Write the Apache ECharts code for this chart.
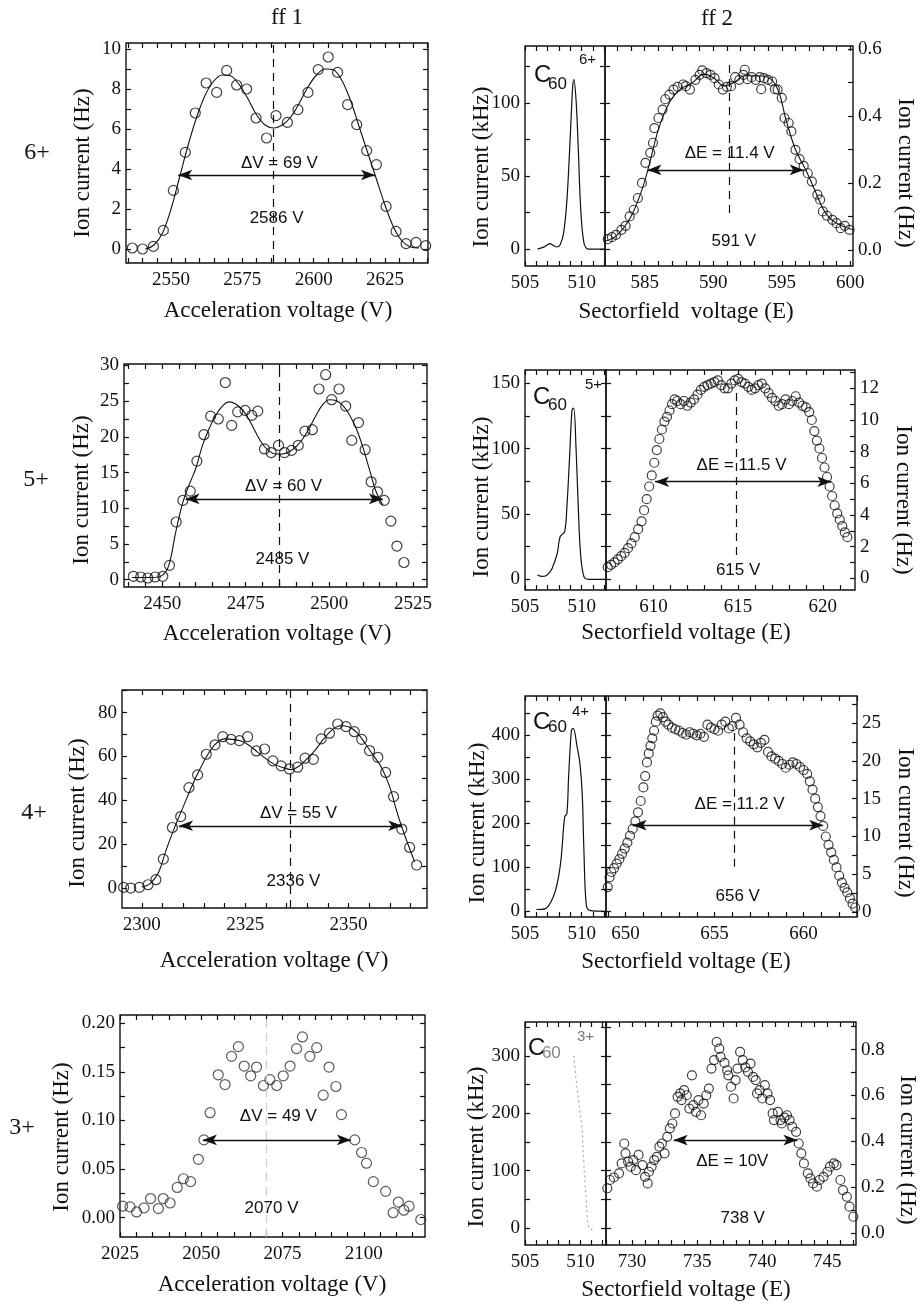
<!DOCTYPE html>
<html><head><meta charset="utf-8">
<script src="https://cdn.jsdelivr.net/npm/echarts@6/dist/echarts.min.js"></script>
<style>html,body{margin:0;padding:0;background:#fff}#c{width:923px;height:1304px}</style>
</head><body><div id="c"></div><script>
// ================= DATA =================
const rowLabels = ['6+', '5+', '4+', '3+'];
const colTitles = ['ff 1', 'ff 2'];
const ff1XTitle = 'Acceleration voltage (V)';
const ff2XTitles = ['Sectorfield  voltage (E)', 'Sectorfield voltage (E)', 'Sectorfield voltage (E)', 'Sectorfield voltage (E)'];
const yTitleHz = 'Ion current (Hz)';
const yTitleKHz = 'Ion current (kHz)';

// ---- ff1 (acceleration voltage scans) ----
const ff1_6_pts = [[2536.4,0.05],[2540,0],[2543.8,0.13],[2547.3,0.93],[2550.8,2.93],[2555,4.83],[2558.5,6.8],[2562.3,8.3],[2566,7.83],[2569.5,8.93],[2573,8.2],[2576.5,8.0],[2579.8,6.55],[2583.5,5.55],[2586.8,6.67],[2590.8,6.33],[2594.5,6.97],[2598,7.83],[2601.6,8.97],[2605.1,9.6],[2608.4,8.83],[2611.9,7.22],[2615.1,6.22],[2618.6,4.92],[2622,4.22],[2625.4,2.13],[2628.9,0.88],[2632.4,0.27],[2635.9,0.33],[2639.3,0.17]];
const ff1_6_fit = [[2541,0.0],[2544,0.2],[2547,0.8],[2550,2.0],[2553,3.6],[2556,5.2],[2559,6.6],[2562,7.7],[2565,8.4],[2568,8.7],[2571,8.65],[2574,8.2],[2577,7.5],[2580,6.7],[2583,6.2],[2586,6.05],[2589,6.2],[2592,6.6],[2595,7.3],[2598,8.1],[2601,8.7],[2604,9.0],[2607,8.95],[2610,8.4],[2613,7.4],[2616,6.1],[2619,4.8],[2622,3.5],[2625,2.2],[2628,1.1],[2631,0.4],[2634,0.1],[2637,0.05]];

const ff1_5_pts = [[2441.4,0.47],[2443.6,0.37],[2445.7,0.23],[2447.9,0.37],[2450.2,0.47],[2452.2,2.0],[2454.2,8.07],[2456.2,11.1],[2458.4,12.4],[2460.4,16.6],[2462.5,20.3],[2464.5,22.9],[2466.8,22.5],[2468.9,27.6],[2470.8,21.6],[2472.6,23.5],[2474.8,23.7],[2476.8,23.0],[2478.6,23.6],[2480.6,18.3],[2482.6,17.8],[2484.8,18.8],[2486.6,17.8],[2488.7,18.1],[2490.7,18.8],[2492.7,20.8],[2494.9,21.0],[2496.9,26.7],[2498.9,28.7],[2500.7,25.2],[2502.9,26.7],[2504.9,24.3],[2506.7,19.5],[2508.7,22.0],[2510.7,18.2],[2512.5,13.7],[2514.4,12.3],[2516.4,11.1],[2518.4,8.2],[2520.2,4.7],[2522.3,2.4]];
const ff1_5_fit = [[2441,0.3],[2447,0.3],[2450,0.6],[2452,2.0],[2454,6.5],[2456,10.5],[2458,13.2],[2460,15.5],[2462,18.7],[2464,21.1],[2466,23.0],[2468,24.3],[2470,24.9],[2472,24.6],[2474,23.8],[2476,22.4],[2478,20.6],[2480,19.0],[2482,18.0],[2484,17.6],[2486,17.6],[2488,17.9],[2490,18.6],[2492,19.7],[2494,21.2],[2496,23.0],[2498,24.5],[2500,25.2],[2502,25.1],[2504,24.4],[2506,23.1],[2508,21.2],[2510,18.6],[2512,15.4],[2514,12.3],[2516,10.4]];

const ff1_4_pts = [[2295.6,0.3],[2297.3,0],[2299.4,0.3],[2301.5,1.5],[2303.4,3.8],[2305.2,13.2],[2307.4,27.6],[2309.4,32.6],[2311.4,45.8],[2313.5,51.6],[2315.6,61],[2317.7,65.3],[2319.6,69],[2321.6,67.8],[2323.6,67.2],[2325.6,69],[2327.7,62.5],[2329.7,63.4],[2331.7,58],[2333.7,55.7],[2335.7,54.3],[2337.7,55.1],[2339.5,59.2],[2341.5,58.7],[2343.4,68],[2345.4,70.6],[2347.4,74.8],[2349.4,73.6],[2351.4,71.3],[2353.2,67.8],[2355.1,62.7],[2357.1,59.6],[2359,52.7],[2360.9,41.7],[2362.9,26.9],[2364.8,18.5],[2366.5,10.5]];
const ff1_4_fit = [[2300,0.5],[2302,2],[2304,7],[2306,18],[2308,28],[2310,37],[2312,46],[2314,54],[2316,61],[2318,66],[2320,68],[2322,67.8],[2324,67],[2326,65],[2328,62],[2330,59],[2332,56.5],[2334,55],[2336,54],[2338,55.5],[2340,59],[2342,63],[2344,68],[2346,72],[2348,74],[2350,73.5],[2352,71],[2354,66],[2356,60.5],[2358,55],[2360,46],[2362,33],[2364,22],[2366,12]];

const ff1_3_pts = [[2025.8,0.0117],[2028.1,0.011],[2030.1,0.0058],[2032.4,0.010],[2034.4,0.0196],[2036.8,0.0093],[2038.3,0.0196],[2040.4,0.015],[2042.6,0.031],[2044.5,0.040],[2046.7,0.037],[2049.1,0.060],[2050.8,0.080],[2052.7,0.108],[2055.2,0.147],[2057.3,0.137],[2059.3,0.166],[2061.4,0.176],[2063.2,0.156],[2065.2,0.146],[2067,0.155],[2069.1,0.136],[2071.1,0.142],[2073.2,0.136],[2075.2,0.146],[2077.3,0.156],[2079.3,0.174],[2081.1,0.186],[2083.4,0.166],[2085.5,0.175],[2087.5,0.126],[2089.3,0.155],[2091.4,0.135],[2093.1,0.106],[2097.2,0.080],[2099.3,0.067],[2100.8,0.056],[2102.9,0.037],[2106.7,0.027],[2109,0.005],[2110.6,0.016],[2112.3,0.0076],[2113.9,0.0117],[2117.5,-0.002]];

// ---- ff2 (sectorfield scans): inset peaks (kHz) and main scans (Hz) ----
const ff2_6_peak = [[506.1,0],[506.7,1.5],[507.2,3.7],[507.5,2.5],[507.8,1.4],[508.1,3],[508.4,11],[508.7,34],[509.0,79],[509.2,111],[509.3,116],[509.5,102],[509.7,68],[509.9,29],[510.2,4],[510.6,0],[512.05,0]];
const ff2_5_peak = [[506.1,3.3],[506.5,2.2],[506.8,2.5],[507.1,4.5],[507.4,8.4],[507.85,20],[508.1,32.6],[508.5,36.5],[508.7,55.6],[508.95,96],[509.15,129.6],[509.3,131],[509.5,101.5],[509.7,55.6],[509.9,20],[510.2,2],[510.6,0],[512.1,0]];
const ff2_4_peak = [[506.0,4],[506.8,6],[507.5,33],[507.9,70],[508.2,123],[508.5,214],[508.7,222],[508.85,305],[509.1,411],[509.26,415],[509.6,373],[509.85,335],[510.05,267],[510.2,139],[510.4,17],[510.7,2],[512.1,0]];
const ff2_3_peak = [[509.4,300],[509.6,260],[509.85,218],[510.15,171],[510.3,113],[510.5,55],[510.75,0],[511.1,-3]];

const ff2_6_pts = [[582.3,0.032],[582.6,0.038],[582.9,0.045],[583.3,0.06],[583.6,0.072],[583.9,0.10],[584.2,0.12],[584.5,0.155],[584.8,0.2],[585.05,0.26],[585.4,0.29],[585.6,0.32],[585.7,0.364],[586.0,0.394],[586.3,0.419],[586.5,0.45],[586.8,0.464],[587.1,0.479],[587.4,0.487],[587.8,0.494],[588.0,0.489],[588.3,0.479],[588.7,0.508],[589.0,0.523],[589.2,0.536],[589.5,0.528],[589.8,0.523],[590.1,0.513],[590.4,0.494],[590.7,0.479],[591.0,0.487],[591.3,0.489],[591.6,0.516],[591.9,0.508],[592.2,0.523],[592.3,0.538],[592.5,0.51],[592.8,0.516],[593.1,0.508],[593.4,0.516],[593.5,0.48],[593.7,0.513],[594.0,0.508],[594.3,0.503],[594.5,0.48],[594.7,0.479],[595.0,0.454],[595.2,0.394],[595.5,0.379],[595.7,0.354],[596.0,0.299],[596.3,0.271],[596.6,0.251],[596.9,0.229],[597.2,0.204],[597.6,0.165],[597.8,0.15],[598.0,0.115],[598.3,0.102],[598.7,0.09],[599.0,0.08],[599.3,0.065],[599.6,0.072],[599.95,0.06]];
const ff2_6_fit = [[582.1,0.025],[583,0.045],[584,0.1],[584.8,0.18],[585.3,0.25],[586,0.36],[586.8,0.44],[587.6,0.48],[588.5,0.5],[589.3,0.525],[590,0.515],[590.8,0.49],[591.5,0.5],[592.3,0.52],[593.2,0.52],[594.2,0.51],[594.8,0.47],[595.3,0.39],[596,0.3],[596.8,0.235],[597.5,0.17],[598.2,0.11],[599,0.08],[600.2,0.06]];

const ff2_5_pts = [[607.3,0.7],[607.5,0.85],[607.7,1.0],[607.9,1.2],[608.1,1.4],[608.3,1.6],[608.5,1.9],[608.7,2.2],[608.9,2.6],[609.1,3.1],[609.3,3.6],[609.45,4.3],[609.6,5.0],[609.75,5.8],[609.9,6.5],[610.05,7.3],[610.2,8.1],[610.35,8.8],[610.5,9.4],[610.65,9.9],[610.8,10.2],[610.95,10.6],[611.1,11.0],[611.25,11.3],[611.4,11.2],[611.6,11.0],[611.8,11.2],[612.0,10.9],[612.2,11.1],[612.4,11.3],[612.6,11.6],[612.8,11.9],[613.0,12.1],[613.2,12.2],[613.4,12.3],[613.6,12.4],[613.8,12.5],[614.0,12.2],[614.2,12.0],[614.4,12.0],[614.6,12.3],[614.8,12.5],[615.0,12.6],[615.2,12.4],[615.4,12.3],[615.6,12.1],[615.8,11.9],[616.0,12.0],[616.2,12.2],[616.4,12.3],[616.6,12.0],[616.8,11.7],[617.0,11.4],[617.2,11.2],[617.4,10.9],[617.6,11.0],[617.8,11.3],[618.0,11.0],[618.2,11.2],[618.4,11.5],[618.6,11.1],[618.8,10.9],[619.0,10.8],[619.2,10.5],[619.35,10.0],[619.5,9.3],[619.65,8.7],[619.8,8.2],[619.95,7.6],[620.1,7.0],[620.25,6.4],[620.4,5.8],[620.55,5.2],[620.7,4.6],[620.85,4.1],[621.0,3.7],[621.15,3.3],[621.3,2.9],[621.45,2.6]];

const ff2_4_pts = [[649.0,3.3],[649.1,4.6],[649.2,5.3],[649.35,5.8],[649.5,6.4],[649.65,7.0],[649.8,7.7],[649.95,8.4],[650.1,9.2],[650.25,10.1],[650.4,11.0],[650.55,12.0],[650.7,13.2],[650.85,14.7],[651.0,16.5],[651.1,18.0],[651.2,19.8],[651.3,21.0],[651.4,22.0],[651.5,23.0],[651.6,24.0],[651.7,25.2],[651.8,26.0],[651.95,26.3],[652.1,25.8],[652.25,25.2],[652.4,24.8],[652.6,24.4],[652.8,24.2],[653.0,24.0],[653.2,23.7],[653.4,23.5],[653.6,23.8],[653.8,23.6],[654.0,23.4],[654.2,23.6],[654.4,23.2],[654.6,24.8],[654.8,24.4],[655.0,24.2],[655.2,24.0],[655.4,24.8],[655.6,25.2],[655.8,24.3],[656.0,24.6],[656.2,25.7],[656.4,24.8],[656.6,23.8],[656.8,23.0],[657.0,22.6],[657.2,22.2],[657.4,21.8],[657.6,22.4],[657.8,22.8],[658.0,21.2],[658.2,20.6],[658.4,20.3],[658.6,20.0],[658.8,19.6],[659.0,19.1],[659.2,19.5],[659.4,19.8],[659.6,19.6],[659.8,19.2],[660.0,18.8],[660.2,18.3],[660.35,17.3],[660.5,16.2],[660.65,15.0],[660.8,13.9],[660.95,12.7],[661.1,11.4],[661.25,10.0],[661.4,8.9],[661.55,7.9],[661.7,6.9],[661.85,5.9],[662.0,4.8],[662.15,3.9],[662.3,3.2],[662.45,2.6],[662.6,1.8],[662.75,1.1],[662.9,0.6]];

const ff2_3_pts = [[728.1,0.196],[728.3,0.232],[728.6,0.243],[729.0,0.261],[729.2,0.304],[729.4,0.391],[729.5,0.348],[729.7,0.312],[729.9,0.29],[730.1,0.319],[730.3,0.275],[730.5,0.341],[730.8,0.297],[731.0,0.246],[731.2,0.217],[731.3,0.268],[731.5,0.29],[731.7,0.319],[731.9,0.333],[732.1,0.377],[732.3,0.391],[732.5,0.348],[732.7,0.42],[732.9,0.457],[733.1,0.478],[733.3,0.522],[733.5,0.594],[733.7,0.609],[733.8,0.58],[734.0,0.623],[734.2,0.601],[734.4,0.543],[734.6,0.688],[734.7,0.558],[734.9,0.529],[735.1,0.58],[735.3,0.514],[735.5,0.565],[735.7,0.601],[735.9,0.63],[736.1,0.717],[736.3,0.754],[736.5,0.833],[736.7,0.804],[736.8,0.768],[737.1,0.742],[737.3,0.71],[737.4,0.688],[737.6,0.638],[737.8,0.587],[737.95,0.667],[738.1,0.717],[738.3,0.79],[738.5,0.754],[738.7,0.722],[738.9,0.703],[739.1,0.739],[739.3,0.681],[739.5,0.667],[739.6,0.609],[739.8,0.623],[740.0,0.587],[740.2,0.645],[740.4,0.609],[740.6,0.58],[740.8,0.522],[740.9,0.493],[741.2,0.529],[741.4,0.493],[741.5,0.478],[741.7,0.504],[741.9,0.514],[742.1,0.493],[742.3,0.464],[742.6,0.442],[742.8,0.391],[743.0,0.348],[743.2,0.304],[743.5,0.261],[743.7,0.239],[743.9,0.217],[744.2,0.203],[744.4,0.232],[744.7,0.246],[745.0,0.268],[745.2,0.29],[745.5,0.304],[745.7,0.297],[746.0,0.232],[746.2,0.188],[746.5,0.159],[746.7,0.116],[747.0,0.072]];

// ---- annotations ----
const ff1Centers = [2586, 2485, 2336, 2070];
const ff1CenterText = ['2586 V', '2485 V', '2336 V', '2070 V'];
const ff1DeltaText = ['\u0394V = 69 V', '\u0394V = 60 V', '\u0394V = 55 V', '\u0394V = 49 V'];
const ff1ArrowY = [3.7, 11.3, 28.4, 0.08];
const ff1ArrowX = [[2552.5, 2621.5], [2457, 2516], [2309, 2363], [2050.5, 2096]];
const ff1DeltaPos = [[2588, 4.3], [2486.3, 13.1], [2337.9, 34.1], [2073.7, 0.104]];
const ff1CenterPos = [[2587, 1.55], [2486, 2.9], [2336.7, 3], [2071.6, 0.0093]];

const ff2CenterLine = [[591.2, 0.11, 0.553], [614.9, 1.47, 12.1], [656.1, 6.0, 23.7], null];
const ff2CenterText = ['591 V', '615 V', '656 V', '738 V'];
const ff2DeltaText = ['\u0394E = 11.4 V', '\u0394E = 11.5 V', '\u0394E = 11.2 V', '\u0394E = 10V'];
const ff2ArrowY = [0.239, 6.1, 11.5, 0.406];
const ff2ArrowX = [[585.2, 596.6], [610.1, 620.5], [650.4, 661.1], [733.2, 742.7]];
const ff2DeltaPos = [[591.2, 0.289], [615.2, 7.16], [656.4, 14.2], [737.7, 0.312]];
const ff2CenterPos = [[591.5, 0.025], [615.0, 0.53], [656.3, 2.1], [738.5, 0.065]];
const ionCharges = ['6+', '5+', '4+', '3+'];
const c60Anchor = [[505.79, 119], [505.7, 139.5], [505.7, 429.6], [505.26, 313.7]];

// ---- tick values ----
const ff1XTicks = [[2550,2575,2600,2625],[2450,2475,2500,2525],[2300,2325,2350],[2025,2050,2075,2100]];
const ff1YTicks = [[0,2,4,6,8,10],[0,5,10,15,20,25,30],[0,20,40,60,80],[0,0.05,0.10,0.15,0.20]];
const ff1YDec = [0,0,0,2];
const insetXTicks = [505, 510];
const insetYTicks = [[0,50,100],[0,50,100,150],[0,100,200,300,400],[0,100,200,300]];
const mainXTicks = [[585,590,595,600],[610,615,620],[650,655,660],[730,735,740,745]];
const mainYTicks = [[0,0.2,0.4,0.6],[0,2,4,6,8,10,12],[0,5,10,15,20,25],[0,0.2,0.4,0.6,0.8]];
const mainYDec = [1,0,0,1];

// ================= LAYOUT / AXES =================
const ff1Rect = [[126,43,302,220],[124,364,303,223],[122,690,305,218],[120,1015,305,222]];
const insetRect = [[525,46,80,220],[525,370,81,220],[525,696,81,221],[525,1022,81,223]];
const mainRect = [[605,46,248,220],[606,370,249,220],[606,696,251,221],[606,1022,250,223]];
const ff1XRange = [[2534.2,2640.1],[2438.6,2529.2],[2295.2,2369],[2025,2118.8]];
const ff1YRange = [[-0.7,10.3],[-1.03,30.2],[-9.1,90.3],[-0.02,0.2086]];
const insetXRange = [[505,512.05],[505,512.15],[505,512.15],[505,512.3]];
const insetYRange = [[-11.6,139],[-8.2,160.2],[-13,488.6],[-29.6,359]];
const mainXRange = [[582.1,600.2],[607.2,621.9],[648.9,663],[728,747.2]];
const mainYRange = [[-0.048,0.609],[-0.74,13.16],[-0.66,28.6],[-0.051,0.92]];

const INK = '#111111';
const SERIF = 'Liberation Serif';
const SANS = 'Liberation Sans';

const grids = [], xAxes = [], yAxes = [], series = [];

function fmt(dec) { return v => Number(v).toFixed(dec); }
// subdivide the major tick step (style only: short tick marks between labelled ticks)
function withMinor(range, ticks, n) {
  const step = (ticks[1] - ticks[0]) / n;
  const out = [];
  const k0 = Math.ceil((range[0] - ticks[0]) / step - 1e-9);
  for (let k = k0; ticks[0] + k * step <= range[1] + 1e-9; k++) out.push(+(ticks[0] + k * step).toFixed(6));
  return out;
}
function mkAxis(gi, pos, range, ticks, labels, dec, nMinor) {
  return {
    type: 'value', gridIndex: gi, position: pos, min: range[0], max: range[1],
    axisLine: {show: false, onZero: false}, splitLine: {show: false},
    axisTick: {show: true, inside: true, length: 5, customValues: withMinor(range, ticks, nMinor), lineStyle: {color: INK, width: 1.2}},
    axisLabel: {show: labels, customValues: ticks, margin: (pos==='bottom'||pos==='top') ? 8 : 5,
      fontFamily: SERIF, fontSize: 19, color: INK, formatter: fmt(dec)},
    animation: false
  };
}
function addGrid(rect, xr, xt, xm, ylr, ylt, yld, ylLab, yrr, yrt, yrd, yrLab) {
  const gi = grids.length;
  grids.push({left: rect[0], top: rect[1], width: rect[2], height: rect[3], show: true,
    borderColor: INK, borderWidth: 1.4, backgroundColor: 'transparent', containLabel: false, outerBoundsMode: 'none'});
  xAxes.push(mkAxis(gi, 'bottom', xr, xt, true, 0, xm));
  xAxes.push(mkAxis(gi, 'top', xr, xt, false, 0, xm));
  yAxes.push(mkAxis(gi, 'left', ylr, ylt, ylLab, yld, 2));
  yAxes.push(mkAxis(gi, 'right', yrr, yrt, yrLab, yrd, 2));
  return gi;
}
function scatterPts(gi, yi, data, size, color) {
  const s = {type: 'scatter', xAxisIndex: 2*gi, yAxisIndex: 2*gi+yi, data: data, symbol: 'circle', symbolSize: size,
    itemStyle: {color: 'rgba(0,0,0,0)', borderColor: color || INK, borderWidth: 1.2}, silent: true, animation: false, z: 3};
  series.push(s); return s;
}
function curve(gi, yi, data, style) {
  series.push({type: 'line', xAxisIndex: 2*gi, yAxisIndex: 2*gi+yi, data: data, smooth: 0.35, showSymbol: false,
    symbol: 'none', lineStyle: Object.assign({color: INK, width: 1.1}, style || {}), silent: true, animation: false, z: 2});
}
function texts(gi, yi, items) {
  series.push({type: 'scatter', xAxisIndex: 2*gi, yAxisIndex: 2*gi+yi, symbolSize: 0, silent: true, animation: false, z: 5,
    itemStyle: {color: '#000', opacity: 1},
    data: items.map(it => ({value: it.v, label: Object.assign({show: true, position: 'inside', formatter: it.t,
      color: INK, opacity: 1, textBorderWidth: 0, fontFamily: SANS, fontSize: 17}, it.l || {})}))});
}
function marks(s, arrowX, arrowY, vline, vcolor) {
  const data = [[{coord: [arrowX[0], arrowY], symbol: 'arrow', symbolSize: [8, 14], lineStyle: {type: 'solid', width: 1.4, color: INK}},
                 {coord: [arrowX[1], arrowY], symbol: 'arrow', symbolSize: [8, 14]}]];
  if (vline) data.push([{coord: [vline[0], vline[1]], symbol: 'none', lineStyle: {type: [8, 6], width: 1.2, color: vcolor || INK}},
                        {coord: [vline[0], vline[2]], symbol: 'none'}]);
  s.markLine = {silent: true, animation: false, symbol: ['none', 'none'], label: {show: false}, data: data, z: 4};
}

const ff1Pts = [ff1_6_pts, ff1_5_pts, ff1_4_pts, ff1_3_pts];
const ff1Fit = [ff1_6_fit, ff1_5_fit, ff1_4_fit, null];
const ff2Peak = [ff2_6_peak, ff2_5_peak, ff2_4_peak, ff2_3_peak];
const ff2Pts = [ff2_6_pts, ff2_5_pts, ff2_4_pts, ff2_3_pts];
const ff2Fit = [ff2_6_fit, null, null, null];

for (let r = 0; r < 4; r++) {
  // ---- ff1 panel ----
  const g1 = addGrid(ff1Rect[r], ff1XRange[r], ff1XTicks[r], 5, ff1YRange[r], ff1YTicks[r], ff1YDec[r], true,
                     ff1YRange[r], ff1YTicks[r], ff1YDec[r], false);
  if (ff1Fit[r]) curve(g1, 0, ff1Fit[r]);
  const s1 = scatterPts(g1, 0, ff1Pts[r], 10, r === 3 ? '#333' : INK);
  const yr = ff1YRange[r];
  marks(s1, ff1ArrowX[r], ff1ArrowY[r], [ff1Centers[r], yr[0], yr[1]], r === 3 ? '#c8c8c8' : INK);
  texts(g1, 0, [{v: ff1DeltaPos[r], t: ff1DeltaText[r]}, {v: ff1CenterPos[r], t: ff1CenterText[r]}]);

  // ---- ff2 inset (parent C60 peak, kHz) ----
  const gi = addGrid(insetRect[r], insetXRange[r], insetXTicks, 5, insetYRange[r], insetYTicks[r], 0, true,
                     insetYRange[r], insetYTicks[r], 0, false);
  curve(gi, 0, ff2Peak[r], r === 3 ? {color: '#aaa', type: [2, 3], width: 1.2} : {width: 1.2});
  const a = c60Anchor[r];
  const supOff = [[45,-15],[52,-12],[39,-10],[49,-11]][r];
  const subOff = [[14,9],[15,8],[15,5],[14,5]][r];
  texts(gi, 0, [
    {v: a, t: 'C', l: {align: 'left', verticalAlign: 'middle', fontSize: 24}},
    {v: a, t: '60', l: {align: 'left', verticalAlign: 'middle', fontSize: 17, offset: subOff, color: r===3 ? '#888' : INK}},
    {v: a, t: ionCharges[r], l: {align: 'left', verticalAlign: 'middle', fontSize: 15, offset: supOff, color: r===3 ? '#777' : INK}}
  ]);

  // ---- ff2 main scan (Hz, right axis) ----
  const gm = addGrid(mainRect[r], mainXRange[r], mainXTicks[r], 5, insetYRange[r], insetYTicks[r], 0, false,
                     mainYRange[r], mainYTicks[r], mainYDec[r], true);
  if (ff2Fit[r]) curve(gm, 1, ff2Fit[r]);
  const s2 = scatterPts(gm, 1, ff2Pts[r], 9);
  marks(s2, ff2ArrowX[r], ff2ArrowY[r], ff2CenterLine[r]);
  texts(gm, 1, [{v: ff2DeltaPos[r], t: ff2DeltaText[r]}, {v: ff2CenterPos[r], t: ff2CenterText[r]}]);
}

// ================= TITLES (plain text) =================
const graphic = [];
function gtext(x, y, text, size, rot, family) {
  graphic.push({type: 'text', x: x, y: y, rotation: rot || 0, silent: true,
    style: {text: text, x: 0, y: 0, fill: INK, font: size + 'px "' + (family || SERIF) + '"', align: 'center', verticalAlign: 'middle'}});
}
gtext(287, 18, colTitles[0], 23);
gtext(717, 19, colTitles[1], 23);
const rowY = [153, 480, 813, 1128];
const rowX = [37, 36, 34, 22];
const ff1XTitleY = [311, 634, 961, 1285];
const ff1XTitleX = [278, 277, 274, 272];
const ff1YTitlePos = [[83,163],[82,490],[78,813],[62,1137]];
const ff2XTitleY = [312, 633, 962, 1290];
const ff2LYTitlePos = [[482,167],[482,497],[478,823],[477,1147]];
const ff2RYTitlePos = [[905,173],[903,500],[905,823],[907,1150]];
for (let r = 0; r < 4; r++) {
  gtext(rowX[r], rowY[r], rowLabels[r], 24);
  gtext(ff1XTitleX[r], ff1XTitleY[r], ff1XTitle, 23);
  gtext(ff1YTitlePos[r][0], ff1YTitlePos[r][1], yTitleHz, 23, Math.PI / 2);
  gtext(686, ff2XTitleY[r], ff2XTitles[r], 23);
  gtext(ff2LYTitlePos[r][0], ff2LYTitlePos[r][1], yTitleKHz, 23, Math.PI / 2);
  gtext(ff2RYTitlePos[r][0], ff2RYTitlePos[r][1], yTitleHz, 23, -Math.PI / 2);
}

const chart = echarts.init(document.getElementById('c'), null, {renderer: 'canvas', width: 923, height: 1304});
chart.setOption({
  animation: false,
  backgroundColor: '#ffffff',
  grid: grids, xAxis: xAxes, yAxis: yAxes, series: series, graphic: graphic
});
</script></body></html>
